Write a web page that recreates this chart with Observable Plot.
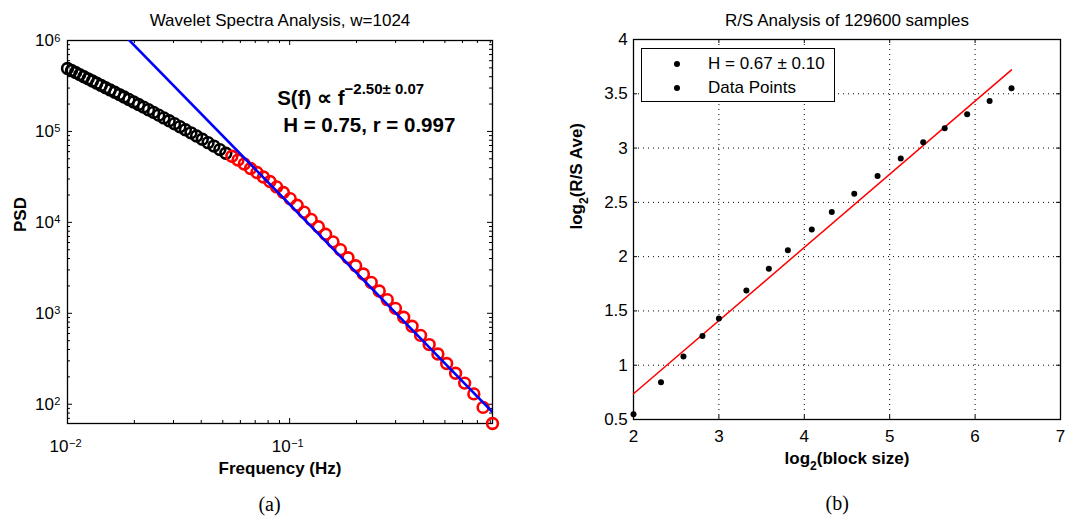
<!DOCTYPE html>
<html><head><meta charset="utf-8">
<script src="https://cdn.jsdelivr.net/npm/d3@7"></script>
<script src="https://cdn.jsdelivr.net/npm/@observablehq/plot@0.6"></script>
<style>
body{margin:0;background:#fff;}
#wrap{position:relative;width:1078px;height:517px;overflow:hidden;font-family:"Liberation Sans",Arial,sans-serif;color:#000;background:#fff;}
#wrap svg{position:absolute;top:0;}
#legend{position:absolute;left:641px;top:48px;width:192px;height:52px;border:1px solid #000;background:#fff;font-size:17px;}
#legend .row{position:absolute;left:0;height:20px;line-height:20px;white-space:nowrap;}
#legend .dot{position:absolute;left:32px;top:7px;width:6px;height:6px;border-radius:50%;background:#000;}
#legend .txt{position:absolute;left:66px;top:0;}
</style></head><body><div id="wrap"></div>
<script>
// ---------- Panel (a): wavelet spectrum ----------
const freqBlack = [0.01, 0.010426, 0.010876, 0.011351, 0.011854, 0.012386, 0.012950, 0.013547, 0.014179, 0.014849, 0.015562, 0.016318, 0.017122, 0.017976, 0.018884, 0.019851, 0.020880, 0.021978, 0.023148, 0.024397, 0.025737, 0.027156, 0.028682, 0.030313, 0.032063, 0.033935, 0.035948, 0.038105, 0.040440, 0.042926, 0.045604, 0.048497, 0.051602];
const psdBlack = [492000, 467600, 444100, 421500, 399700, 378900, 358700, 339500, 320900, 303000, 286100, 269700, 254100, 239100, 224700, 211000, 197800, 185300, 173400, 162000, 151100, 140800, 131000, 121600, 112800, 104400, 96470, 88980, 81940, 75240, 68980, 63100, 57580];
const freqRed = [0.05495, 0.05856, 0.06247, 0.06669, 0.07126, 0.07621, 0.08157, 0.08739, 0.09370, 0.10056, 0.10803, 0.11615, 0.12500, 0.13468, 0.14520, 0.15672, 0.16931, 0.18311, 0.19822, 0.21477, 0.23299, 0.25309, 0.27512, 0.29942, 0.32620, 0.35574, 0.38858, 0.42469, 0.46480, 0.50920, 0.55853, 0.61348, 0.67470, 0.74281, 0.81878];
const psdRed = [53300, 48420, 43890, 39100, 35290, 31550, 28140, 24550, 21300, 18220, 15430, 12940, 10770, 8939, 7404, 6103, 5005, 4083, 3332, 2704, 2185, 1759, 1413, 1133, 905.0, 719.4, 571.7, 452.9, 356.8, 280.4, 219.1, 170.7, 130.0, 92.35, 61.40];
const fitFreq = [0.01, 0.81878];
const fitPsd = [4.983e6, 82.13];
const freqDomain = [0.01, 0.81878];
const psdDomain = [61.4, 1e6];
const xMajor = [0.01, 0.1];
const xMajorExp = ["\u22122", "\u22121"];
const xMinor = [0.02,0.03,0.04,0.05,0.06,0.07,0.08,0.09,0.2,0.3,0.4,0.5,0.6,0.7,0.8];
const yMajor = [1e2, 1e3, 1e4, 1e5, 1e6];
const yMajorExp = ["2", "3", "4", "5", "6"];
const yMinor = [70,80,90,200,300,400,500,600,700,800,900,2000,3000,4000,5000,6000,7000,8000,9000,20000,30000,40000,50000,60000,70000,80000,90000,200000,300000,400000,500000,600000,700000,800000,900000];
const titleA = "Wavelet Spectra Analysis, w=1024";
const xLabelA = "Frequency (Hz)";
const yLabelA = "PSD";
const noteA1 = "S(f) \u221d f\u22122.50\u00b1 0.07";
const noteA2 = "H = 0.75, r = 0.997";

// ---------- Panel (b): R/S analysis ----------
const blockLog2 = [2, 2.3219, 2.585, 2.8074, 3, 3.3219, 3.585, 3.8074, 4.0875, 4.3219, 4.585, 4.858, 5.1293, 5.3923, 5.6439, 5.9069, 6.1699, 6.4263];
const rsLog2 = [0.549, 0.844, 1.081, 1.268, 1.431, 1.689, 1.889, 2.058, 2.251, 2.411, 2.580, 2.742, 2.903, 3.053, 3.182, 3.311, 3.434, 3.551];
const rsFitX = [2, 6.4263];
const rsFitY = [0.737, 3.72];
const rsXTicks = [2, 3, 4, 5, 6, 7];
const rsYTicks = [0.5, 1, 1.5, 2, 2.5, 3, 3.5, 4];
const rsXGrid = [3, 4, 5, 6];
const rsYGrid = [1, 1.5, 2, 2.5, 3, 3.5];
const titleB = "R/S Analysis of 129600 samples";
const xLabelB = "log2(block size)";
const yLabelB = "log2(R/S Ave)";
const legendLabels = ["H = 0.67 \u00b1 0.10", "Data Points"];

const FONT = "Liberation Sans, Arial, sans-serif";
const wrap = document.getElementById("wrap");
const LA = {lineAnchor: "middle"};

function rich(svg, content, parts) {
  d3.select(svg).selectAll("text").filter(function(){ return this.textContent === content; }).each(function(){
    const t = d3.select(this); t.text(null);
    let shift = 0;
    for (const p of parts) {
      const ts = t.append("tspan").text(p.t);
      const target = p.dy || 0;
      if (target !== shift) { ts.attr("dy", target - shift); shift = target; }
      if (p.size) ts.attr("font-size", p.size);
    }
  });
}

// ----- Panel A -----
{
  const W = 539, H = 517, mL = 67, mR = 47, mT = 40, mB = 94;
  const FW = W - mL - mR, FH = H - mT - mB;
  const black = freqBlack.map((f, i) => ({f, p: psdBlack[i]}));
  const red = freqRed.map((f, i) => ({f, p: psdRed[i]}));
  const fit = fitFreq.map((f, i) => ({f, p: fitPsd[i]}));
  const maj = 5, mino = 3;
  const svg = Plot.plot({
    width: W, height: H, marginLeft: mL, marginRight: mR, marginTop: mT, marginBottom: mB,
    style: {fontFamily: FONT, fontSize: "17px", color: "#000", background: "transparent", overflow: "visible"},
    x: {type: "log", domain: freqDomain, axis: null},
    y: {type: "log", domain: psdDomain, axis: null},
    marks: [
      Plot.ruleX(xMajor, {x: d => d, insetTop: FH - maj, stroke: "#000"}),
      Plot.ruleX(xMajor, {x: d => d, insetBottom: FH - maj, stroke: "#000"}),
      Plot.ruleX(xMinor, {x: d => d, insetTop: FH - mino, stroke: "#000"}),
      Plot.ruleX(xMinor, {x: d => d, insetBottom: FH - mino, stroke: "#000"}),
      Plot.ruleY(yMajor, {y: d => d, insetRight: FW - maj, stroke: "#000"}),
      Plot.ruleY(yMajor, {y: d => d, insetLeft: FW - maj, stroke: "#000"}),
      Plot.ruleY(yMinor, {y: d => d, insetRight: FW - mino, stroke: "#000"}),
      Plot.ruleY(yMinor, {y: d => d, insetLeft: FW - mino, stroke: "#000"}),
      Plot.frame({stroke: "#000", strokeWidth: 1.3}),
      Plot.dot(black, {x: "f", y: "p", r: 5.4, stroke: "#000", strokeWidth: 2.6, fill: "none"}),
      Plot.dot(red, {x: "f", y: "p", r: 5.4, stroke: "#ff0000", strokeWidth: 2.6, fill: "none"}),
      Plot.line(fit, {x: "f", y: "p", stroke: "#0000ff", strokeWidth: 2.6, clip: true}),
      Plot.text(xMajor, {...LA, x: d => d, text: () => "10", frameAnchor: "bottom", textAnchor: "end", dx: 1, dy: 22.6, fontSize: 17}),
      Plot.text(xMajor, {...LA, x: d => d, text: (d, i) => xMajorExp[i], frameAnchor: "bottom", textAnchor: "start", dx: 1.5, dy: 19.5, fontSize: 11}),
      Plot.text(yMajor, {...LA, y: d => d, text: () => "10", frameAnchor: "left", textAnchor: "end", dx: -13.5, fontSize: 17}),
      Plot.text(yMajor, {...LA, y: d => d, text: (d, i) => yMajorExp[i], frameAnchor: "left", textAnchor: "start", dx: -13.3, dy: -2.5, fontSize: 11}),
      Plot.text([titleA], {...LA, text: d => d, frameAnchor: "top", dy: -20.4, fontSize: 17}),
      Plot.text([xLabelA], {...LA, text: d => d, frameAnchor: "bottom", dy: 44.6, fontSize: 17, fontWeight: "bold"}),
      Plot.text([yLabelA], {...LA, text: d => d, frameAnchor: "left", dx: -47.4, rotate: -90, fontSize: 17, fontWeight: "bold"}),
      Plot.text([noteA1], {...LA, text: d => d, frameAnchor: "top-left", textAnchor: "start", dx: 209.7, dy: 57.7, fontSize: 20.5, fontWeight: "bold"}),
      Plot.text([noteA2], {...LA, text: d => d, frameAnchor: "top-left", textAnchor: "start", dx: 215.7, dy: 85.1, fontSize: 20.5, fontWeight: "bold"}),
      Plot.text(["(a)"], {...LA, text: d => d, frameAnchor: "bottom", dx: -10.5, dy: 81.3, fontSize: 20, fontFamily: "Liberation Serif, serif"})
    ]
  });
  svg.style.left = "0px";
  wrap.appendChild(svg);
  rich(svg, noteA1, [{t: "S(f) \u221d f"}, {t: "\u22122.50\u00b1 0.07", dy: -11, size: 15}]);
}

// ----- Panel B -----
{
  const W = 539, H = 517, mL = 94, mR = 18, mT = 39, mB = 98;
  const FW = W - mL - mR, FH = H - mT - mB;
  const pts = blockLog2.map((x, i) => ({x, y: rsLog2[i]}));
  const fit = rsFitX.map((x, i) => ({x, y: rsFitY[i]}));
  const tl = 4;
  const svg = Plot.plot({
    width: W, height: H, marginLeft: mL, marginRight: mR, marginTop: mT, marginBottom: mB,
    style: {fontFamily: FONT, fontSize: "17px", color: "#000", background: "transparent", overflow: "visible"},
    x: {domain: [2, 7], axis: null},
    y: {domain: [0.5, 4], axis: null},
    marks: [
      Plot.ruleX(rsXGrid, {x: d => d, stroke: "#000", strokeWidth: 1, strokeDasharray: "1,4"}),
      Plot.ruleY(rsYGrid, {y: d => d, stroke: "#000", strokeWidth: 1, strokeDasharray: "1,4"}),
      Plot.ruleX(rsXTicks, {x: d => d, insetTop: FH - tl, stroke: "#000"}),
      Plot.ruleX(rsXTicks, {x: d => d, insetBottom: FH - tl, stroke: "#000"}),
      Plot.ruleY(rsYTicks, {y: d => d, insetRight: FW - tl, stroke: "#000"}),
      Plot.ruleY(rsYTicks, {y: d => d, insetLeft: FW - tl, stroke: "#000"}),
      Plot.frame({stroke: "#000", strokeWidth: 1.3}),
      Plot.line(fit, {x: "x", y: "y", stroke: "#ff0000", strokeWidth: 1.5}),
      Plot.dot(pts, {x: "x", y: "y", r: 3, fill: "#000", stroke: "none"}),
      Plot.text(rsXTicks, {...LA, x: d => d, text: d => String(d), frameAnchor: "bottom", dy: 16.6, fontSize: 17}),
      Plot.text(rsYTicks, {...LA, y: d => d, text: d => String(d), frameAnchor: "left", textAnchor: "end", dx: -5.7, fontSize: 17}),
      Plot.text([titleB], {...LA, text: d => d, frameAnchor: "top", dy: -19.4, fontSize: 17}),
      Plot.text([xLabelB], {...LA, text: d => d, frameAnchor: "bottom", dy: 38.9, fontSize: 17, fontWeight: "bold"}),
      Plot.text([yLabelB], {...LA, text: d => d, frameAnchor: "left", dx: -57.4, rotate: -90, fontSize: 17, fontWeight: "bold"}),
      Plot.text(["(b)"], {...LA, text: d => d, frameAnchor: "bottom", dx: -9.8, dy: 83.6, fontSize: 20, fontFamily: "Liberation Serif, serif"})
    ]
  });
  svg.style.left = "539px";
  wrap.appendChild(svg);
  rich(svg, xLabelB, [{t: "log"}, {t: "2", dy: 6, size: 12}, {t: "(block size)", dy: 0}]);
  rich(svg, yLabelB, [{t: "log"}, {t: "2", dy: 6, size: 12}, {t: "(R/S Ave)", dy: 0}]);

  const lg = document.createElement("div");
  lg.id = "legend";
  legendLabels.forEach((s, i) => {
    const row = document.createElement("div");
    row.className = "row";
    row.style.top = (5 + i * 24) + "px";
    row.style.width = "100%";
    row.innerHTML = '<span class="dot"></span><span class="txt"></span>';
    row.querySelector(".txt").textContent = s;
    lg.appendChild(row);
  });
  wrap.appendChild(lg);
}
</script></body></html>
